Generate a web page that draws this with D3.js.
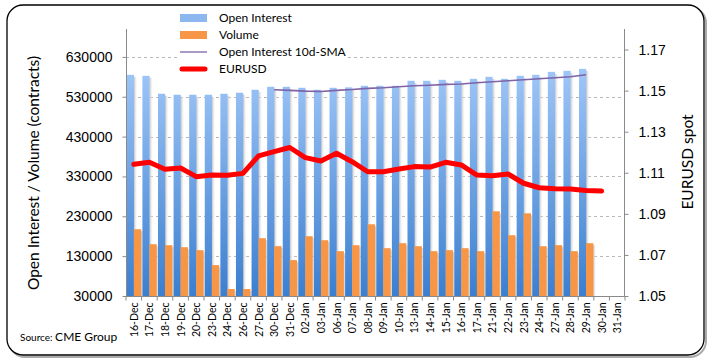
<!DOCTYPE html>
<html>
<head>
<meta charset="utf-8">
<script src="https://cdn.jsdelivr.net/npm/d3@7"></script>
<style>
  body { margin: 0; background: #fff; }
  svg { display: block; font-family: Lato, "Open Sans", sans-serif; }
  .grid line { stroke: #b8b8b8; stroke-dasharray: 3,3; }
  .axis path, .axis line { stroke: #8a8a8a; }
  .axis text { fill: #000; }
</style>
</head>
<body>
<div id="chart"></div>
<script>

// categories (trading days)
var days = ["16-Dec", "17-Dec", "18-Dec", "19-Dec", "20-Dec", "23-Dec", "24-Dec", "26-Dec",
    "27-Dec", "30-Dec", "31-Dec", "02-Jan", "03-Jan", "06-Jan", "07-Jan", "08-Jan",
    "09-Jan", "10-Jan", "13-Jan", "14-Jan", "15-Jan", "16-Jan", "17-Jan", "21-Jan",
    "22-Jan", "23-Jan", "24-Jan", "27-Jan", "28-Jan", "29-Jan", "30-Jan", "31-Jan"];

// open interest (contracts)
var openInterest = [585000, 582500, 537500, 535000, 535000, 535000, 537500, 540000,
    547500, 555000, 555000, 552500, 547500, 552500, 553500, 557500,
    557500, 557500, 570000, 570000, 572500, 570000, 575000, 580000,
    575000, 582500, 585000, 592500, 595000, 600000, null, null];

// volume (contracts)
var volume = [197500, 160000, 157500, 152500, 145000, 107500, 47500, 47500,
    175000, 155000, 120000, 180000, 170000, 142500, 157500, 210000,
    150000, 162500, 155000, 142500, 145000, 150000, 142500, 242500,
    182500, 237500, 155000, 157500, 142500, 162500, null, null];

// open interest 10d-SMA (starts on 30-Dec)
var oiSma = [null, null, null, null, null, null, null, null,
    null, 547500, 546000, 544000, 543000, 546000, 548000, 551000,
    552500, 555000, 557500, 559000, 561000, 562000, 565000, 567500,
    570000, 572500, 575000, 577500, 580000, 585000, null, null];

// EURUSD spot
var eurusd = [1.1141, 1.1151, 1.1117, 1.1123, 1.1081, 1.1089, 1.1088, 1.1097,
    1.1182, 1.1203, 1.1223, 1.1174, 1.1157, 1.1195, 1.1154, 1.1105,
    1.1105, 1.1118, 1.1130, 1.1128, 1.1151, 1.1138, 1.1089, 1.1086,
    1.1094, 1.1049, 1.1027, 1.1022, 1.1021, 1.1014, 1.1011, null];

// tick values
var leftTicks = [30000, 130000, 230000, 330000, 430000, 530000, 630000];
var rightTicks = [1.05, 1.07, 1.09, 1.11, 1.13, 1.15, 1.17];

var cfg = {
    w: 712, h: 363,
    left: 126, right: 625, top: 29, bottom: 296
};

var svg = d3.select("#chart").append("svg")
        .attr("width", cfg.w).attr("height", cfg.h);

var defs = svg.append("defs");
var g1 = defs.append("linearGradient").attr("id", "oiGrad")
        .attr("gradientUnits", "userSpaceOnUse")
        .attr("x1", 0).attr("x2", 0).attr("y1", cfg.top + 40).attr("y2", cfg.bottom);
g1.append("stop").attr("offset", "0%").attr("stop-color", "#9fc6f8");
g1.append("stop").attr("offset", "100%").attr("stop-color", "#3b7fd0");
var g2 = defs.append("linearGradient").attr("id", "shadow")
        .attr("x1", 0).attr("x2", 1).attr("y1", 0).attr("y2", 0);
g2.append("stop").attr("offset", "0%").attr("stop-color", "#bdbdbd");
g2.append("stop").attr("offset", "100%").attr("stop-color", "#ffffff").attr("stop-opacity", 0);

// frame with shadow
svg.append("rect").attr("x", 9).attr("y", 7).attr("width", 697).attr("height", 350)
        .attr("rx", 16).attr("fill", "none").attr("stroke", "#aaa").attr("stroke-width", 2);
svg.append("rect").attr("x", 7).attr("y", 5).attr("width", 697).attr("height", 350)
        .attr("rx", 16).attr("fill", "#fff").attr("stroke", "#000").attr("stroke-width", 1.3);

// scales
var x = d3.scaleBand().domain(days).range([cfg.left, cfg.right]).padding(0);
var bw = x.bandwidth();
var y = d3.scaleLinear().domain([30000, 700000]).range([cfg.bottom, cfg.top]);
var y2 = d3.scaleLinear().domain([1.05, 1.18]).range([cfg.bottom, cfg.top]);

// gridlines
svg.append("g").attr("class", "grid").selectAll("line")
        .data(leftTicks.slice(1)).enter().append("line")
        .attr("x1", cfg.left).attr("x2", cfg.right)
        .attr("y1", function (d) { return Math.round(y(d)) + 0.5; })
        .attr("y2", function (d) { return Math.round(y(d)) + 0.5; });

var oiData = days.map(function (d, i) { return {name: d, v: openInterest[i]}; })
        .filter(function (d) { return d.v !== null; });
var volData = days.map(function (d, i) { return {name: d, v: volume[i]}; })
        .filter(function (d) { return d.v !== null; });

// bar shadows
svg.append("g").selectAll("rect").data(oiData).enter().append("rect")
        .attr("x", function (d) { return x(d.name) + bw / 2; })
        .attr("width", 4)
        .attr("y", function (d) { return y(d.v) + 2; })
        .attr("height", function (d) { return cfg.bottom - y(d.v) - 2; })
        .attr("fill", "url(#shadow)");
svg.append("g").selectAll("rect").data(volData).enter().append("rect")
        .attr("x", function (d) { return x(d.name) + bw - 0.5; })
        .attr("width", 3)
        .attr("y", function (d) { return y(d.v) + 2; })
        .attr("height", function (d) { return cfg.bottom - y(d.v) - 2; })
        .attr("fill", "url(#shadow)");

// open interest bars
svg.append("g").selectAll("rect").data(oiData).enter().append("rect")
        .attr("x", function (d) { return x(d.name) + 0.8; })
        .attr("width", bw / 2 - 0.6)
        .attr("y", function (d) { return y(d.v); })
        .attr("height", function (d) { return cfg.bottom - y(d.v); })
        .attr("fill", "url(#oiGrad)");

// volume bars
svg.append("g").selectAll("rect").data(volData).enter().append("rect")
        .attr("x", function (d) { return x(d.name) + bw / 2; })
        .attr("width", bw / 2 - 0.4)
        .attr("y", function (d) { return y(d.v); })
        .attr("height", function (d) { return cfg.bottom - y(d.v); })
        .attr("fill", "#f79646");

// SMA line
var smaLine = d3.line()
        .defined(function (d) { return d !== null; })
        .x(function (d, i) { return x(days[i]) + bw / 2; })
        .y(function (d) { return y(d); });
svg.append("path").datum(oiSma).attr("d", smaLine)
        .attr("fill", "none").attr("stroke", "#7f63a8").attr("stroke-width", 1.6);

// EURUSD line
var fxLine = d3.line()
        .defined(function (d) { return d !== null; })
        .x(function (d, i) { return x(days[i]) + bw / 2; })
        .y(function (d) { return y2(d); });
svg.append("path").datum(eurusd).attr("d", fxLine)
        .attr("fill", "none").attr("stroke", "#ff0000").attr("stroke-width", 5)
        .attr("stroke-linejoin", "round").attr("stroke-linecap", "round");

// left axis
var yaxis = d3.axisLeft(y).tickValues(leftTicks).tickSize(4).tickPadding(10)
        .tickFormat(d3.format("d"));
var ga = svg.append("g").attr("class", "axis")
        .attr("transform", "translate(" + (cfg.left + 0.5) + ",0)").call(yaxis);
ga.select("path.domain").attr("d", "M0," + cfg.top + "V" + cfg.bottom);
ga.selectAll("text").style("font-size", "14px");

// right axis
var y2axis = d3.axisRight(y2).tickValues(rightTicks).tickSize(4).tickPadding(10)
        .tickFormat(d3.format(".2f"));
var gb = svg.append("g").attr("class", "axis")
        .attr("transform", "translate(" + (cfg.right - 0.5) + ",0)").call(y2axis);
gb.select("path.domain").attr("d", "M0," + cfg.top + "V" + cfg.bottom);
gb.selectAll("text").style("font-size", "14px");

// x axis with ticks between categories
var gx = svg.append("g").attr("class", "axis")
        .attr("transform", "translate(0," + (cfg.bottom + 0.5) + ")");
gx.append("path").attr("d", "M" + cfg.left + ",0H" + cfg.right);
gx.selectAll("line").data(days.concat(["end"])).enter().append("line")
        .attr("x1", function (d, i) { return cfg.left + i * bw; })
        .attr("x2", function (d, i) { return cfg.left + i * bw; })
        .attr("y1", 0).attr("y2", 4);
gx.selectAll("text").data(days).enter().append("text")
        .text(function (d) { return d; })
        .attr("transform", function (d) {
            return "translate(" + (x(d) + bw / 2 + 4) + ",6) rotate(-90)";
        })
        .attr("text-anchor", "end")
        .style("font-size", "10.5px");

// axis titles
svg.append("text").text("Open Interest / Volume (contracts)")
        .attr("transform", "translate(39,173) rotate(-90)")
        .attr("text-anchor", "middle").style("font-size", "15.5px");
svg.append("text").text("EURUSD spot")
        .attr("transform", "translate(693,162) rotate(-90)")
        .attr("text-anchor", "middle").style("font-size", "15.5px");

// legend
var legend = svg.append("g");
legend.append("rect").attr("x", 177).attr("y", 8).attr("width", 170).attr("height", 68)
        .attr("fill", "#fff");
var items = ["Open Interest", "Volume", "Open Interest 10d-SMA", "EURUSD"];
items.forEach(function (t, i) {
    var cy = 18 + i * 17;
    if (i === 0) {
        legend.append("rect").attr("x", 180).attr("y", cy - 4).attr("width", 27).attr("height", 8)
                .attr("fill", "#8db8ef");
    } else if (i === 1) {
        legend.append("rect").attr("x", 180).attr("y", cy - 4).attr("width", 27).attr("height", 8)
                .attr("fill", "#f79646");
    } else if (i === 2) {
        legend.append("line").attr("x1", 180).attr("x2", 207).attr("y1", cy).attr("y2", cy)
                .attr("stroke", "#7f63a8").attr("stroke-width", 1.3);
    } else {
        legend.append("line").attr("x1", 182).attr("x2", 205).attr("y1", cy).attr("y2", cy)
                .attr("stroke", "#ff0000").attr("stroke-width", 5).attr("stroke-linecap", "round");
    }
    legend.append("text").text(t).attr("x", 219).attr("y", cy + 4)
            .style("font-size", "12px");
});

// source
var src = svg.append("text").attr("x", 20).attr("y", 341);
src.append("tspan").text("Source: ").style("font-size", "10px");
src.append("tspan").text("CME Group").style("font-size", "12px");

</script>
</body>
</html>
